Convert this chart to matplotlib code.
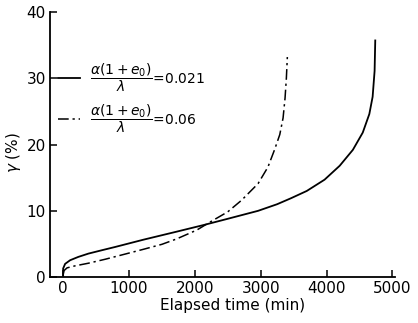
import matplotlib.pyplot as plt
import numpy as np

# values
t_solid = [0, 0, 30, 106, 230, 384, 585, 790, 1220, 1720, 2130, 2480, 2960,
           3250, 3460, 3700, 3970, 4200, 4400, 4550, 4650, 4700, 4730, 4740]
g_solid = [0.3, 1.3, 2.0, 2.55, 3.05, 3.55, 4.05, 4.55, 5.65, 6.85, 7.85, 8.75, 10.0,
           11.0, 11.9, 13.0, 14.7, 16.8, 19.2, 21.8, 24.6, 27.2, 31.1, 35.7]

t_dash = [0, 15, 60, 180, 384, 640, 950, 1220, 1500, 1720, 2030, 2230, 2500, 2710,
          2960, 3110, 3210, 3290, 3340, 3370, 3390, 3405]
g_dash = [0.4, 1.0, 1.4, 1.7, 2.1, 2.7, 3.5, 4.2, 4.95, 5.75, 7.1, 8.3, 9.85, 11.6,
          14.1, 16.6, 19.2, 21.5, 24.0, 27.0, 30.0, 33.2]

labels = [r'$\dfrac{\alpha(1+e_0)}{\lambda}$=0.021',
          r'$\dfrac{\alpha(1+e_0)}{\lambda}$=0.06']
xticks = [0, 1000, 2000, 3000, 4000, 5000]
yticks = [0, 10, 20, 30, 40]

plt.rcParams['font.family'] = 'DejaVu Sans'
plt.rcParams['mathtext.fontset'] = 'dejavusans'

fig = plt.figure(figsize=(4.18, 3.23), dpi=100)
ax = fig.add_axes([0.12, 0.142, 0.825, 0.821])

ax.plot(t_solid, g_solid, color='black', lw=1.3, label=labels[0])
ax.plot(t_dash, g_dash, color='black', lw=1.1, dashes=(7, 2.5, 1.5, 2.5), label=labels[1])

ax.set_xlim(-197, 5040)
ax.set_ylim(0, 40)
ax.set_xticks(xticks)
ax.set_yticks(yticks)
ax.tick_params(direction='in', length=5, width=1.1, labelsize=11, pad=3)
for s in ['top', 'right']:
    ax.spines[s].set_visible(False)
for s in ['left', 'bottom']:
    ax.spines[s].set_linewidth(1.3)

ax.set_xlabel('Elapsed time (min)', fontsize=11, labelpad=1)
ax.xaxis.set_label_coords(0.53, -0.08)
ax.set_ylabel(r'$\gamma$ (%)', fontsize=11)
ax.yaxis.set_label_coords(-0.08, 0.47)

ax.legend(loc='upper left', bbox_to_anchor=(0.023, 0.815), frameon=False,
          fontsize=10, handlelength=1.6, handletextpad=0.7, labelspacing=0.6,
          borderaxespad=0, borderpad=0)

plt.savefig('out.png', dpi=100)
